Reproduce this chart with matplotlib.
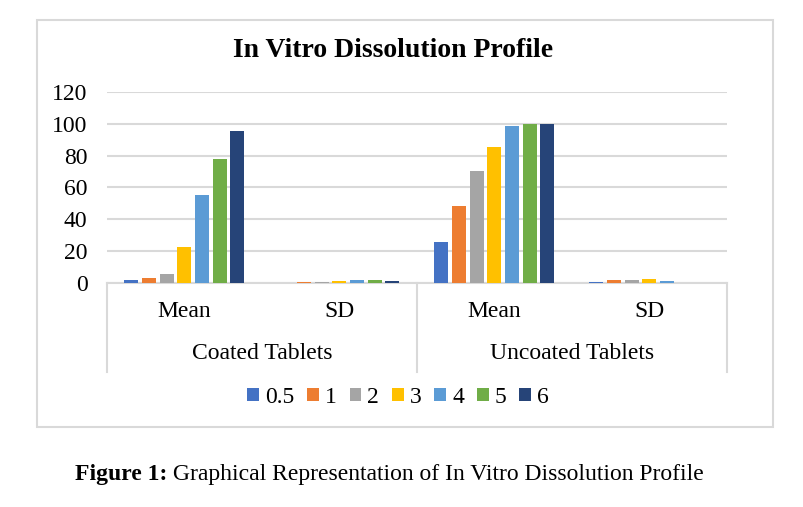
import numpy as np
import matplotlib
matplotlib.use("Agg")
import matplotlib.pyplot as plt
from matplotlib.patches import Rectangle

plt.rcParams['font.family'] = ['Liberation Serif', 'DejaVu Serif']

# data
hours = ['0.5', '1', '2', '3', '4', '5', '6']
groups = ['Coated Tablets', 'Uncoated Tablets']
stats = ['Mean', 'SD', 'Mean', 'SD']
coated_mean = [2.1, 3.3, 5.9, 22.5, 55.5, 78, 95.5]
coated_sd = [0.2, 0.8, 0.8, 1.5, 2.1, 2.1, 1.5]
uncoated_mean = [25.5, 48.5, 70, 85.5, 98.5, 100, 100]
uncoated_sd = [0.8, 2.1, 2.1, 2.7, 1.5, 0, 0]
colors = ['#4472C4', '#ED7D31', '#A5A5A5', '#FFC000', '#5B9BD5', '#70AD47', '#264478']

values = np.array([coated_mean, coated_sd, uncoated_mean, uncoated_sd])  # rows = categories

fig = plt.figure(figsize=(8.04, 5.07), dpi=100)
ax = fig.add_axes([0.133, 0.442, 0.771, 0.3767])

x = np.arange(len(stats))
step = 0.114
width = 0.09
for i, h in enumerate(hours):
    ax.bar(x + (i - 3) * step, values[:, i], width=width, color=colors[i], label=h, zorder=3)

ax.set_xlim(-0.5, 3.5)
ax.set_ylim(0, 120)
ax.set_yticks(range(0, 121, 20))
ax.yaxis.grid(True, color='#D9D9D9', lw=1.5, zorder=0)
for s in ['top', 'right', 'left']:
    ax.spines[s].set_visible(False)
ax.spines['bottom'].set_color('#D9D9D9')
ax.spines['bottom'].set_linewidth(1.5)
ax.tick_params(axis='y', length=0, labelsize=17, pad=14)
ax.set_xticks([])

# two level category axis
tr = ax.get_xaxis_transform()
for xv in [-0.5, 1.5, 3.5]:
    ax.plot([xv, xv], [0, -0.466], transform=tr, color='#D9D9D9', lw=1.5, clip_on=False)
for xv, s in zip(x, stats):
    ax.text(xv, -0.15, s, transform=tr, ha='center', va='center', fontsize=17)
for xv, g in zip([0.5, 2.5], groups):
    ax.text(xv, -0.372, g, transform=tr, ha='center', va='center', fontsize=17)

fig.text(0.489, 0.901, 'In Vitro Dissolution Profile', ha='center', va='center',
         fontsize=20, fontweight='bold')

fig.legend(loc='center', bbox_to_anchor=(0.495, 0.216), ncol=7, frameon=False,
           fontsize=17, handlelength=0.5, handleheight=0.5, handletextpad=0.25,
           columnspacing=0.55)

# chart border
fig.add_artist(Rectangle((0.046, 0.158), 0.9154, 0.8028, transform=fig.transFigure,
                         fill=False, edgecolor='#D9D9D9', lw=1.5))

# caption
t1 = fig.text(0.093, 0.065, 'Figure 1:', fontsize=17, fontweight='bold', va='center')
ax.annotate(' Graphical Representation of In Vitro Dissolution Profile', xy=(1, 0.5),
            xycoords=t1, va='center', fontsize=17, annotation_clip=False)

fig.savefig('out.png', dpi=100, facecolor='white')
